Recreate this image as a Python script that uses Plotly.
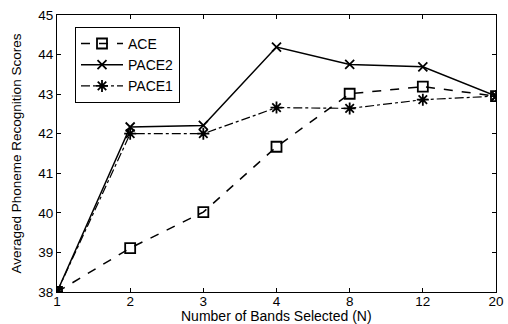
import plotly.graph_objects as go

categories = ["1", "2", "3", "4", "8", "12", "20"]
ace = [38.0, 39.11, 40.02, 41.67, 43.01, 43.19, 42.95]
pace2 = [38.0, 42.17, 42.21, 44.19, 43.75, 43.69, 42.95]
pace1 = [38.0, 42.0, 42.0, 42.66, 42.64, 42.86, 42.95]

FONT = "Liberation Sans, Arial, Helvetica"

fig = go.Figure()
fig.add_trace(go.Scatter(x=categories, y=ace, name="ACE", mode="lines+markers",
                         line=dict(color="black", width=1.5, dash="dash"),
                         marker=dict(symbol="square-open", size=10, color="black", line=dict(width=1.8))))
fig.add_trace(go.Scatter(x=categories, y=pace2, name="PACE2", mode="lines+markers",
                         line=dict(color="black", width=1.5),
                         marker=dict(symbol="x-thin-open", size=9, color="black", line=dict(width=1.8))))
fig.add_trace(go.Scatter(x=categories, y=pace1, name="PACE1", mode="lines+markers",
                         line=dict(color="black", width=1.2, dash="dashdot"),
                         marker=dict(symbol="asterisk-open", size=10, color="black", line=dict(width=1.8))))

axis_common = dict(showgrid=False, zeroline=False, showline=True, linecolor="black", linewidth=1,
                   mirror="ticks", ticks="inside", ticklen=4, tickcolor="black", automargin=False,
                   tickfont=dict(family=FONT, size=13.5, color="black"))

fig.update_layout(
    width=508, height=324,
    margin=dict(l=57, r=12, t=15, b=32),
    paper_bgcolor="white", plot_bgcolor="white",
    font=dict(family=FONT, color="black"),
    xaxis=dict(type="category", range=[0, 6], ticklabelstandoff=-3, **axis_common),
    yaxis=dict(range=[38, 45], dtick=1, **axis_common),
    legend=dict(x=0.041, y=0.957, xanchor="left", yanchor="top", bgcolor="white",
                bordercolor="black", borderwidth=1, font=dict(family=FONT, size=14),
                itemwidth=42),
    showlegend=True,
    annotations=[
        dict(text="Number of Bands Selected (N)", xref="paper", yref="paper",
             x=0.5, y=0, yshift=-24, xanchor="center", yanchor="middle",
             showarrow=False, font=dict(family=FONT, size=14, color="black")),
        dict(text="Averaged Phoneme Recognition Scores", xref="paper", yref="paper",
             x=0, y=0.5, xshift=-41, xanchor="center", yanchor="middle", textangle=-90,
             showarrow=False, font=dict(family=FONT, size=13.5, color="black")),
    ],
)

fig.write_html("out.html", config={"displayModeBar": False},
               post_script="document.body.style.margin='0';document.body.style.overflow='hidden';")
